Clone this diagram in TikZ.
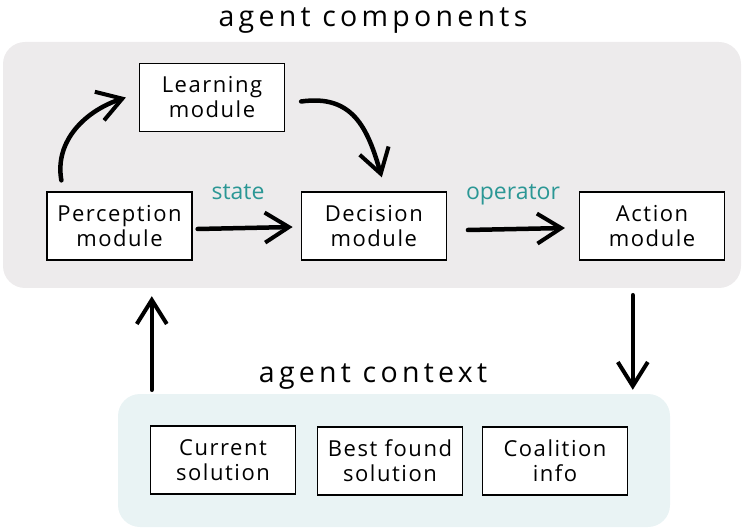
\documentclass[tikz,border=0pt]{standalone}
\usepackage{fontspec}
\setmainfont{Open Sans}
\newfontfamily\titlefont[LetterSpace=15]{Open Sans}
\newfontfamily\modfont[LetterSpace=7]{Open Sans}
\usetikzlibrary{arrows.meta,positioning}

\definecolor{panelgray}{HTML}{EDEBEC}
\definecolor{panelblue}{HTML}{E9F3F4}
\definecolor{labelteal}{HTML}{2B9795}

\begin{document}
\begin{tikzpicture}[
        x = 1pt, y = 1pt,
        >={Straight Barb[length=24pt,width=30pt,line width=4pt]},
        panel/.style = {
            rounded corners = 22pt,
            inner sep = 0pt,
        },
        module/.style = {
            draw, fill = white,
            line width = 1.3pt,
            align = center,
            minimum width = 145pt,
            minimum height = 68pt,
            inner sep = 0pt,
            font = \modfont\fontsize{22}{25}\selectfont,
        },
        heading/.style = {
            anchor = base,
            text = black,
            font = \titlefont\fontsize{28.5}{32}\selectfont,
        },
        flow/.style = {
            anchor = base,
            text = labelteal,
            font = \fontsize{23}{26}\selectfont,
        },
        brush/.style = {
            ->,
            line width = 4.5pt,
            line cap = round,
        },
        ]
        \useasboundingbox (0,0) rectangle (747,-529);

        % Achtergrond
        \node[panel, fill = panelgray, minimum width = 738pt, minimum height = 246pt] (components) at (372,-165) {};
        \node[panel, fill = panelblue, minimum width = 552pt, minimum height = 133pt] (context) at (394,-460.5) {};

        \node[heading] (components_title) at (373,-27) {agent components};
        \node[heading] (context_title) at (373,-382) {agent context};

        % Modules
        \node[module] (learning) at (212,-97.5) {Learning\\module};
        \node[module] (perception) at (119.5,-226) {Perception\\module};
        \node[module, right = 108pt of perception] (decision) {Decision\\module};
        \node[module, right = 132pt of decision] (action) {Action\\module};

        \node[module] (current) at (223,-460) {Current\\solution};
        \node[module] (best_found) at (390,-461) {Best found\\solution};
        \node[module] (coalition) at (555,-461) {Coalition\\info};

        % Labels
        \node[flow] (state) at (238,-200) {state};
        \node[flow] (operator) at (513,-200) {operator};

        % Pijlen
        \draw[brush] ([xshift=15pt,yshift=11pt]perception.north west)
            to[out=100, in=198] ([xshift=-13pt]learning.west);
        \draw[brush] ([xshift=16pt,yshift=-4pt]learning.east)
            to[out=8, in=106, looseness=1.2] ([xshift=8pt,yshift=14pt]decision.north);
        \draw[brush] ([xshift=5pt,yshift=-3pt]perception.east) -- ([xshift=-8pt,yshift=-1pt]decision.west);
        \draw[brush] ([xshift=21pt,yshift=-4pt]decision.east) -- ([xshift=-14pt,yshift=-2pt]action.west);
        \draw[brush] ([xshift=34pt,yshift=4pt]context.north west) -- ([xshift=149pt,yshift=-8pt]components.south west);
        \draw[brush] ([xshift=630pt,yshift=-7pt]components.south west) -- ([xshift=515pt,yshift=4pt]context.north west);
\end{tikzpicture}
\end{document}
